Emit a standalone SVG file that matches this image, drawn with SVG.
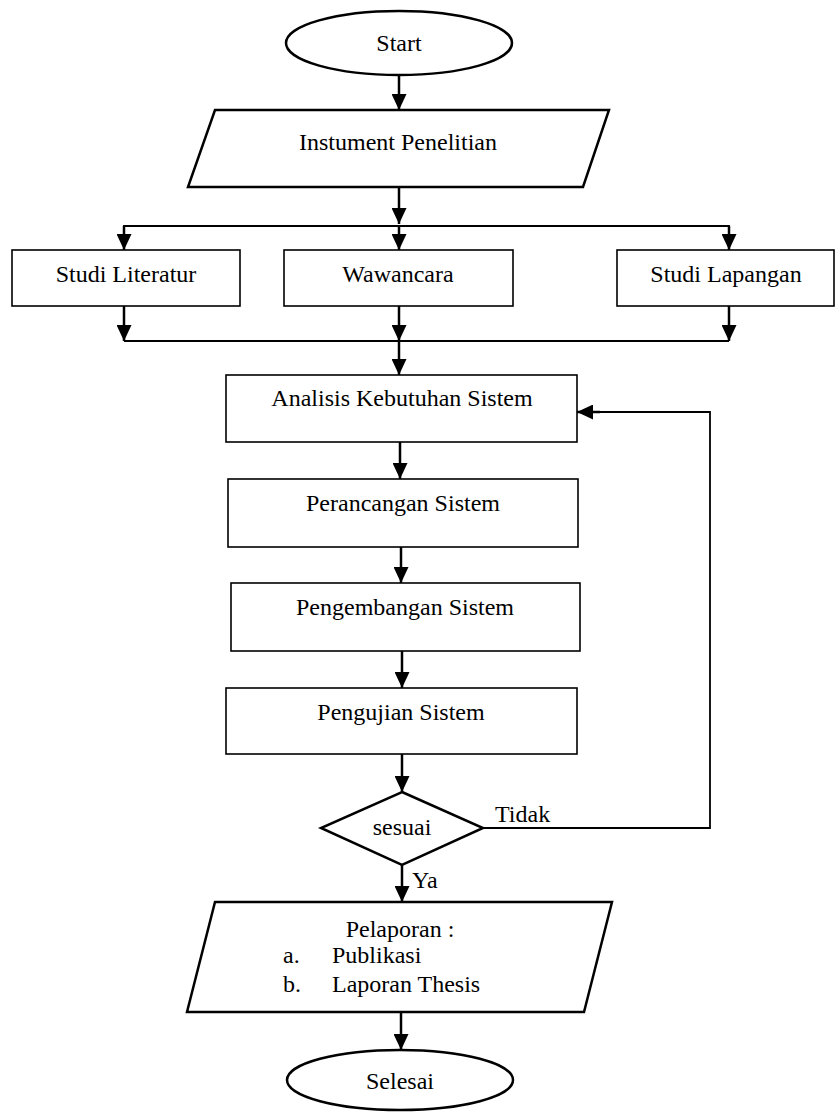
<svg xmlns="http://www.w3.org/2000/svg" width="835" height="1112" viewBox="0 0 835 1112">
  <style>
    .shape { fill: #ffffff; stroke: #000000; stroke-width: 2.5; }
    .box { fill: #ffffff; stroke: #000000; stroke-width: 1.6; }
    .flow { fill: none; stroke: #000000; stroke-width: 2.5; }
    .thin { fill: none; stroke: #000000; stroke-width: 1.8; }
    text { font-family: "Liberation Serif", "Times New Roman", serif; font-size: 24px; fill: #000000; }
    .c { text-anchor: middle; }
  </style>
  <defs>
    <marker id="arrow" viewBox="0 0 16 15" refX="16" refY="7.5" markerWidth="16" markerHeight="15" markerUnits="userSpaceOnUse" orient="auto">
      <path d="M0,0 L16,7.5 L0,15 Z" fill="#000000"/>
    </marker>
  </defs>

  <!-- connectors -->
  <g id="connectors">
    <line class="flow" x1="399" y1="75" x2="399" y2="110" marker-end="url(#arrow)"/>
    <line class="flow" x1="399" y1="187" x2="399" y2="224" marker-end="url(#arrow)"/>
    <polyline class="thin" points="124,250 124,226 729,226 729,250"/>
    <line class="flow" x1="124" y1="226" x2="124" y2="250" marker-end="url(#arrow)"/>
    <line class="flow" x1="399" y1="226" x2="399" y2="250" marker-end="url(#arrow)"/>
    <line class="flow" x1="729" y1="226" x2="729" y2="250" marker-end="url(#arrow)"/>
    <line class="flow" x1="124" y1="306" x2="124" y2="341" marker-end="url(#arrow)"/>
    <line class="flow" x1="399" y1="306" x2="399" y2="341" marker-end="url(#arrow)"/>
    <line class="flow" x1="729" y1="306" x2="729" y2="341" marker-end="url(#arrow)"/>
    <line class="thin" x1="124" y1="341" x2="729" y2="341"/>
    <line class="flow" x1="399" y1="341" x2="399" y2="375" marker-end="url(#arrow)"/>
    <line class="flow" x1="400" y1="442" x2="400" y2="479" marker-end="url(#arrow)"/>
    <line class="flow" x1="401" y1="547" x2="401" y2="583" marker-end="url(#arrow)"/>
    <line class="flow" x1="402" y1="651" x2="402" y2="688" marker-end="url(#arrow)"/>
    <line class="flow" x1="402" y1="754" x2="402" y2="792" marker-end="url(#arrow)"/>
    <polyline class="thin" points="483,828 710,828 710,412 588,412"/>
    <line class="flow" x1="600" y1="412" x2="577" y2="412" marker-end="url(#arrow)"/>
    <line class="flow" x1="402" y1="865" x2="402" y2="902" marker-end="url(#arrow)"/>
    <line class="flow" x1="401" y1="1012" x2="401" y2="1050" marker-end="url(#arrow)"/>
    <text x="495" y="822">Tidak</text>
    <text x="412" y="888">Ya</text>
  </g>

  <g id="start">
    <ellipse class="shape" cx="399" cy="43" rx="113" ry="32"/>
    <text class="c" x="399" y="51">Start</text>
  </g>

  <g id="instrumen">
    <polygon class="shape" points="215,110 609,110 583,187 188,187"/>
    <text class="c" x="398" y="150">Instument Penelitian</text>
  </g>

  <g id="studi-literatur">
    <rect class="box" x="12" y="250" width="228" height="56"/>
    <text class="c" x="126" y="282">Studi Literatur</text>
  </g>

  <g id="wawancara">
    <rect class="box" x="284" y="250" width="229" height="56"/>
    <text class="c" x="398" y="282">Wawancara</text>
  </g>

  <g id="studi-lapangan">
    <rect class="box" x="617" y="250" width="217" height="56"/>
    <text class="c" x="726" y="282">Studi Lapangan</text>
  </g>

  <g id="analisis">
    <rect class="box" x="226" y="375" width="351" height="67"/>
    <text class="c" x="402" y="406">Analisis Kebutuhan Sistem</text>
  </g>

  <g id="perancangan">
    <rect class="box" x="228" y="479" width="350" height="68"/>
    <text class="c" x="403" y="511">Perancangan Sistem</text>
  </g>

  <g id="pengembangan">
    <rect class="box" x="231" y="583" width="349" height="68"/>
    <text class="c" x="405" y="615">Pengembangan Sistem</text>
  </g>

  <g id="pengujian">
    <rect class="box" x="226" y="688" width="351" height="66"/>
    <text class="c" x="401" y="720">Pengujian Sistem</text>
  </g>

  <g id="sesuai">
    <polygon class="shape" points="402,792 483,828 402,865 321,828"/>
    <text class="c" x="402" y="835">sesuai</text>
  </g>

  <g id="pelaporan">
    <polygon class="shape" points="215,902 612,902 584,1012 187,1012"/>
    <text class="c" x="400" y="937">Pelaporan :</text>
    <text x="283" y="963">a.</text>
    <text x="332" y="963">Publikasi</text>
    <text x="283" y="992">b.</text>
    <text x="332" y="992">Laporan Thesis</text>
  </g>

  <g id="selesai">
    <ellipse class="shape" cx="400" cy="1080" rx="113" ry="30"/>
    <text class="c" x="400" y="1089">Selesai</text>
  </g>
</svg>
